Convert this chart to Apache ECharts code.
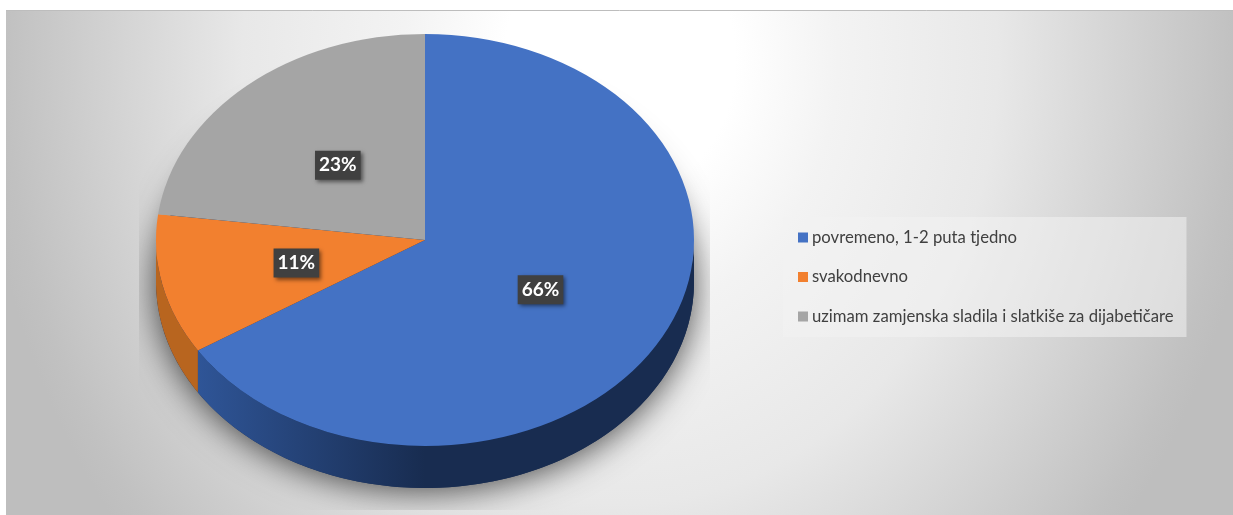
<!DOCTYPE html>
<html>
<head>
<meta charset="utf-8">
<style>html,body{margin:0;padding:0;background:#fff;overflow:hidden}#c{width:1233px;height:515px}</style>
<script src="https://cdn.jsdelivr.net/npm/echarts@6/dist/echarts.min.js"></script>
</head>
<body>
<div id="c"></div>
<script>
const categories = ['povremeno, 1-2 puta tjedno', 'svakodnevno', 'uzimam zamjenska sladila i slatkiše za dijabetičare'];
const values = [66, 11, 23];
const colors = ['#4472C4', '#F2802F', '#A5A5A5'];
const wallColors = [['#2F5597', '#182C50'], ['#B8651F', '#B8651F'], ['#7C7C7C', '#7C7C7C']];

const CX = 425, CY = 240, RX = 269, RY = 206, DEPTH = 42, LABEL_AT = 0.49;
const total = values.reduce((a, b) => a + b, 0);
const startOf = i => values.slice(0, i).reduce((a, b) => a + b, 0) / total * Math.PI * 2;

function pt(t, dy) {
  return [CX + RX * Math.sin(t), CY + (dy || 0) - RY * Math.cos(t)];
}
function wall(a0, a1) {
  const lo = Math.max(a0, Math.PI / 2), hi = Math.min(a1, Math.PI * 1.5);
  if (hi <= lo) return null;
  const top = [], bottom = [];
  const n = 120;
  for (let k = 0; k <= n; k++) {
    const t = lo + (hi - lo) * k / n;
    top.push(pt(t, 0));
    bottom.unshift(pt(t, DEPTH));
  }
  return top.concat(bottom);
}

function renderItem(params, api) {
  const i = params.seriesIndex;
  const v = api.value(0);
  const a0 = startOf(i);
  const a1 = a0 + v / total * Math.PI * 2;
  const children = [];
  if (i === 0) {
    children.push({
      type: 'group',
      clipPath: { type: 'rect', shape: { x: 139, y: 60, width: 571, height: 450 } },
      children: [{
        type: 'ellipse',
        shape: { cx: CX, cy: CY + DEPTH, rx: RX, ry: RY },
        style: { fill: '#999', shadowColor: 'rgba(0,0,0,0.7)', shadowBlur: 34, shadowOffsetX: 0, shadowOffsetY: 3 }
      }]
    });
    children.push({
      type: 'ellipse',
      shape: { cx: CX, cy: CY + DEPTH, rx: RX, ry: RY },
      style: { fill: wallColors[0][1] }
    });
  }
  const w = wall(a0, a1);
  if (w) {
    children.push({
      type: 'polygon',
      shape: { points: w },
      style: {
        fill: {
          type: 'linear', x: Math.min(w[0][0], w[120][0]), y: 0,
          x2: i === 0 ? CX : w[0][0], y2: 0, global: true,
          colorStops: [{ offset: 0, color: wallColors[i][0] }, { offset: 1, color: wallColors[i][1] }]
        }
      }
    });
  }
  children.push({
    type: 'sector',
    x: CX, y: CY, scaleX: 1, scaleY: RY / RX,
    shape: { cx: 0, cy: 0, r0: 0, r: RX, startAngle: a0 - Math.PI / 2, endAngle: a1 - Math.PI / 2, clockwise: true },
    style: { fill: colors[i] }
  });
  const mid = (a0 + a1) / 2;
  children.push({
    type: 'text',
    x: CX + RX * LABEL_AT * Math.sin(mid),
    y: CY - RY * LABEL_AT * Math.cos(mid) + 1,
    z2: 10,
    style: {
      text: Math.round(v / total * 100) + '%',
      fill: '#fff',
      font: 'bold 19px Lato, "Open Sans", sans-serif',
      align: 'center', verticalAlign: 'middle',
      backgroundColor: '#404040',
      padding: [5, 4, 5, 4],
      shadowColor: 'rgba(0,0,0,0.5)', shadowBlur: 4, shadowOffsetX: 2, shadowOffsetY: 2
    }
  });
  return { type: 'group', children };
}

const chart = echarts.init(document.getElementById('c'), null, { renderer: 'canvas' });
chart.setOption({
  animation: false,
  backgroundColor: '#fff',
  graphic: [{
    type: 'rect', z: -10, silent: true,
    x: 0, y: 60, scaleY: 1.176,
    shape: { x: 6, y: -42.5, width: 1227, height: 429.5 },
    style: {
      fill: {
        type: 'radial', x: 620, y: 0, r: 640, global: true,
        colorStops: [
          { offset: 0, color: '#ffffff' }, { offset: 0.18, color: '#ffffff' },
          { offset: 0.34, color: '#f3f3f3' }, { offset: 0.59, color: '#e8e8e8' },
          { offset: 0.96, color: '#c1c1c1' }, { offset: 1, color: '#bebebe' }
        ]
      }
    }
  }, {
    type: 'line', z: -9, silent: true,
    shape: { x1: 6, y1: 10.5, x2: 1233, y2: 10.5 },
    style: { stroke: '#bdbdbd', lineWidth: 1 }
  }],
  legend: {
    orient: 'vertical',
    left: 783, top: 217,
    padding: [12, 13, 12, 15],
    itemGap: 22.5,
    itemWidth: 10, itemHeight: 10,
    icon: 'rect',
    selectedMode: false,
    backgroundColor: 'rgba(242,242,242,0.55)',
    textStyle: { color: '#404040', fontSize: 16.7, fontFamily: 'Lato, "Open Sans", sans-serif', padding: [0, 0, 0, -1] },
    data: categories
  },
  series: categories.map((name, i) => ({
    type: 'custom',
    name,
    coordinateSystem: 'none',
    z: 5 + i,
    itemStyle: { color: colors[i] },
    renderItem,
    data: [[values[i]]]
  }))
});
</script>
</body>
</html>
